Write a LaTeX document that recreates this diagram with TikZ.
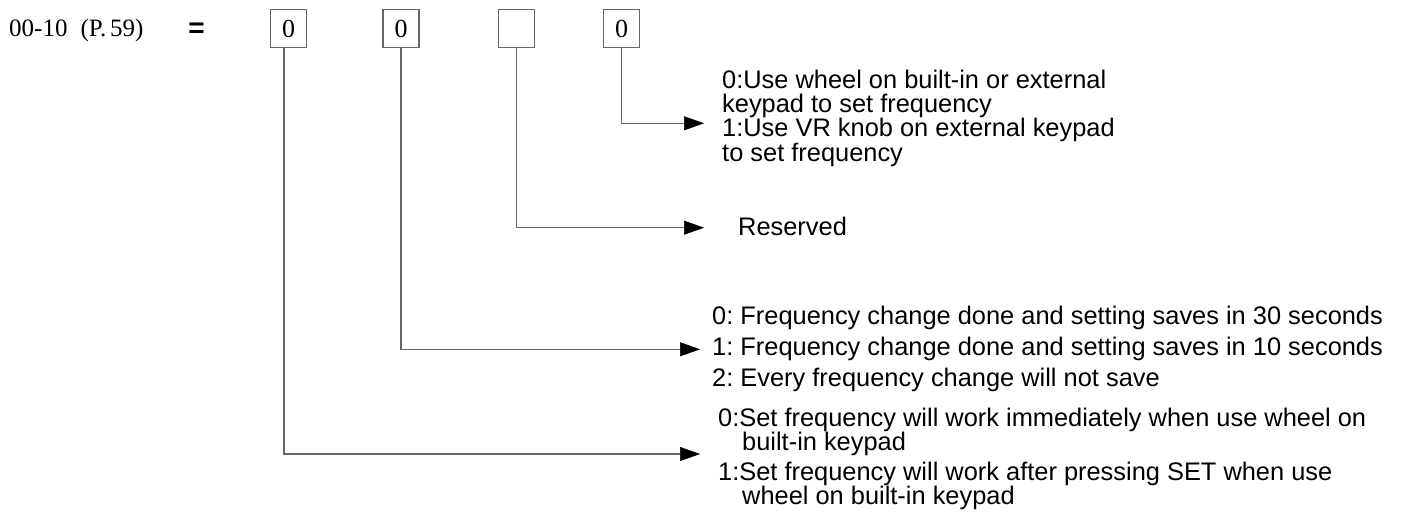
\documentclass[tikz,border=0pt]{standalone}
\usepackage{fontspec}
\setmainfont{Liberation Sans}
\newfontfamily\serifcn{Liberation Serif}
\usetikzlibrary{arrows.meta}
\frenchspacing
\begin{document}
\begin{tikzpicture}[x=1pt,y=-1pt,
  digitbox/.style={draw=black!60, line width=1.5pt, minimum width=36pt, minimum height=38pt, inner sep=0pt, font=\serifcn\fontsize{26}{26}\selectfont},
  link/.style={draw=black!60, line width=1.5pt, -{Triangle[length=20pt,width=14pt,color=black,line width=0.5pt]}},
  desc/.style={inner sep=0pt, anchor=base west, align=left, font=\fontsize{25.4}{23.5}\selectfont},
  desctwo/.style={desc, font=\fontsize{25.4}{31}\selectfont},
  desctri/.style={desc, font=\fontsize{25.4}{24}\selectfont},
]
\useasboundingbox (0,0) rectangle (1402,529);

\node[anchor=base west, inner sep=0pt, font=\serifcn\fontsize{25}{25}\selectfont] (code) at (9,37) {00-10\hspace{13pt}(P.\hspace{4pt}59)};
\node[inner sep=0pt, font=\bfseries\fontsize{28}{28}\selectfont] (eq) at (196.5,30) {=};

\node[digitbox] (b1) at (288.5,28.5) {0};
\node[digitbox] (b2) at (401,28.5) {0};
\node[digitbox] (b3) at (516.7,28.5) {};
\node[digitbox] (b4) at (621.5,28.5) {0};

% base anchor of a multi-line node = baseline of its last line
\node[desc] (t4) at (722,161.5) {0:Use wheel on built-in or external\\keypad to set frequency\\1:Use VR knob on external keypad\\to set frequency};
\node[desc] (t3) at (738,236) {Reserved};
\node[desctwo] (t2) at (712,386) {0: Frequency change done and setting saves in 30 seconds\\1: Frequency change done and setting saves in 10 seconds\\2: Every frequency change will not save};
\node[desctri] (t1a) at (718,450) {0:Set frequency will work immediately when use wheel on\\\hspace*{24pt}built-in keypad};
\node[desctri] (t1b) at (718,504) {1:Set frequency will work after pressing SET when use\\\hspace*{24pt}wheel on built-in keypad};

\coordinate (e4) at (704,123.3);
\coordinate (e3) at (704,227.7);
\coordinate (e2) at (700,349.3);
\coordinate (e1) at (700,454);

\draw[link] (b4.south) |- (e4);
\draw[link] (b3.south) |- (e3);
\draw[link] (b2.south) |- (e2);
\draw[link] ([xshift=-4.5pt]b1.south) |- (e1);
\end{tikzpicture}
\end{document}
